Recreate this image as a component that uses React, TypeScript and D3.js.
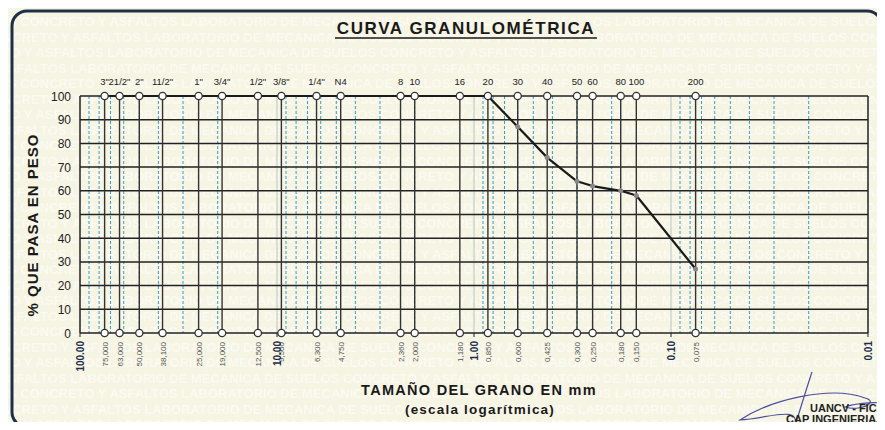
import React from 'react';
import * as d3 from 'd3';

// sieve openings (mm), names and passing percentages
const sieveNames = ['3"', '21/2"', '2"', '11/2"', '1"', '3/4"', '1/2"', '3/8"', '1/4"', 'N4', '8', '10', '16', '20', '30', '40', '50', '60', '80', '100', '200'];
const sieveSizes = [75, 63, 50, 38.1, 25, 19, 12.5, 9.5, 6.3, 4.75, 2.36, 2.0, 1.18, 0.85, 0.6, 0.425, 0.3, 0.25, 0.18, 0.15, 0.075];
const sieveTickLabels = ['75,000', '63,000', '50,000', '38,100', '25,000', '19,000', '12,500', '9,500', '6,300', '4,750', '2,360', '2,000', '1,180', '0,850', '0,600', '0,425', '0,300', '0,250', '0,180', '0,150', '0,075'];
const passing = [100, 100, 100, 100, 100, 100, 100, 100, 100, 100, 100, 100, 100, 100, 87, 74, 64, 62, 60, 58, 27];
const decades = [100, 10, 1, 0.1, 0.01];
const decadeLabels = ['100.00', '10.00', '1.00', '0.10', '0.01'];
const yTicks = [0, 10, 20, 30, 40, 50, 60, 70, 80, 90, 100];
const watermark = 'LOS CONCRETO Y ASFALTOS LABORATORIO DE MECANICA DE SUELOS CONCRETO Y ASFALTOS LABORATORIO DE MECANICA DE SUELOS CONCRETO Y ASFALTOS';

const W = 885;
const H = 430;
const font = 'Arial, "Liberation Sans", sans-serif';

export default function App() {
  const x = d3.scaleLog().domain([100, 0.01]).range([80, 868]);
  const y = d3.scaleLinear().domain([0, 100]).range([333, 96]);

  // minor log lines 2..9 in every decade
  const minors: number[] = [];
  [10, 1, 0.1, 0.01].forEach(d => {
    for (let k = 2; k <= 9; k++) minors.push(d * k);
  });

  const pts = sieveSizes.map((s, i) => [s, passing[i]] as [number, number]);
  const line = d3.line<[number, number]>()
    .x(d => x(d[0]))
    .y(d => y(d[1]));

  const wmRows = d3.range(0, 27).map(i => 26 + i * 15.5);

  return (
    <div style={{ margin: -8, width: W, height: H, overflow: 'hidden' }}>
      <svg width={W} height={H} style={{ display: 'block', fontFamily: font }}>
        <rect x={0} y={0} width={W} height={H} fill="#f6f4e3" />
        {/* watermark */}
        <g fill="#fbfaf1" fontWeight="bold" fontSize={13}>
          {wmRows.map((ry, i) => (
            <text key={i} x={-10 - (i % 4) * 37} y={ry}>{watermark}</text>
          ))}
        </g>
        <rect x={12} y={11} width={870} height={416} rx={15} fill="none" stroke="#1e3048" strokeWidth={3} />

        {/* title */}
        <text x={466} y={34} textAnchor="middle" fontSize={17} fontWeight="bold" letterSpacing={1.6} fill="#1a1a1a">CURVA GRANULOMÉTRICA</text>
        <line x1={335} x2={597} y1={38} y2={38} stroke="#1a1a1a" strokeWidth={1.5} />

        {/* minor dashed lines */}
        {minors.map((m, i) => (
          <line key={'m' + i} x1={x(m)} x2={x(m)} y1={y(100)} y2={y(0)} stroke="#3a9cc4" strokeWidth={1} strokeDasharray="3,2" />
        ))}
        {/* decade lines */}
        {decades.map((d, i) => (
          <g key={'d' + i}>
            <line x1={x(d)} x2={x(d)} y1={y(100)} y2={y(0)} stroke={i === 0 || i === 4 ? '#222' : '#b9c6c4'} strokeWidth={i === 0 || i === 4 ? 1.5 : 1} />
            <line x1={x(d)} x2={x(d)} y1={y(0)} y2={y(0) + 4} stroke="#222" strokeWidth={1} />
          </g>
        ))}
        {/* horizontal grid */}
        {yTicks.map(t => (
          <line key={'h' + t} x1={x(100)} x2={x(0.01)} y1={y(t)} y2={y(t)} stroke="#222" strokeWidth={1.5} />
        ))}
        {/* sieve lines */}
        {sieveSizes.map((s, i) => (
          <line key={'s' + i} x1={x(s)} x2={x(s)} y1={y(100)} y2={y(0)} stroke="#333" strokeWidth={1.4} />
        ))}

        {/* y labels */}
        {yTicks.map(t => (
          <text key={'yl' + t} x={71} y={y(t) + 4.5} textAnchor="end" fontSize={12} fill="#222">{t}</text>
        ))}
        <text transform={`translate(38,${225}) rotate(-90)`} textAnchor="middle" fontSize={15} fontWeight="bold" letterSpacing={1} fill="#1a1a1a">% QUE PASA EN PESO</text>

        {/* sieve names */}
        {sieveSizes.map((s, i) => (
          <text key={'n' + i} x={x(s)} y={85} textAnchor="middle" fontSize={9.5} fill="#222">{sieveNames[i]}</text>
        ))}

        {/* curve */}
        <path d={line(pts) || ''} fill="none" stroke="#1a1a1a" strokeWidth={2.2} strokeLinejoin="round" />
        {pts.filter(p => p[1] < 100).map((p, i) => (
          <circle key={'p' + i} cx={x(p[0])} cy={y(p[1])} r={2.5} fill="#888" />
        ))}

        {/* sieve circles top and bottom */}
        {sieveSizes.map((s, i) => (
          <g key={'c' + i}>
            <circle cx={x(s)} cy={y(100)} r={3.6} fill="#fff" stroke="#333" strokeWidth={1.3} />
            <circle cx={x(s)} cy={y(0)} r={3.6} fill="#fff" stroke="#333" strokeWidth={1.3} />
          </g>
        ))}

        {/* bottom tick labels */}
        {sieveSizes.map((s, i) => (
          <text key={'t' + i} transform={`translate(${x(s) + 3},342) rotate(-90)`} textAnchor="end" fontSize={8} fill="#555">{sieveTickLabels[i]}</text>
        ))}
        {decades.map((d, i) => (
          <text key={'dl' + i} transform={`translate(${x(d) + 4},341) rotate(-90)`} textAnchor="end" fontSize={10} fontWeight="bold" fill="#1e2e4a">{decadeLabels[i]}</text>
        ))}

        {/* axis title */}
        <text x={479} y={395} textAnchor="middle" fontSize={14.5} fontWeight="bold" letterSpacing={1.3} fill="#1a1a1a">TAMAÑO DEL GRANO EN mm</text>
        <text x={480} y={414} textAnchor="middle" fontSize={13.5} fontWeight="bold" letterSpacing={1.2} fill="#1a1a1a">(escala logarítmica)</text>

        {/* stamp and signature */}
        <circle cx={748} cy={470} r={46} fill="none" stroke="#333" strokeWidth={2} />
        <circle cx={748} cy={470} r={40} fill="none" stroke="#444" strokeWidth={1} />
        <path d="M812,372 C806,390 800,410 795,426 M795,426 C800,405 770,418 740,420 C770,400 830,385 865,398 C880,402 860,412 845,407 C860,402 880,402 885,404" fill="none" stroke="#4b4f9c" strokeWidth={1.2} />
        <text x={810} y={412} fontSize={11} fontWeight="bold" fill="#222">UANCV - FIC</text>
        <text x={786} y={423} fontSize={11} fontWeight="bold" fill="#222">CAP INGENIERIA</text>
      </svg>
    </div>
  );
}
